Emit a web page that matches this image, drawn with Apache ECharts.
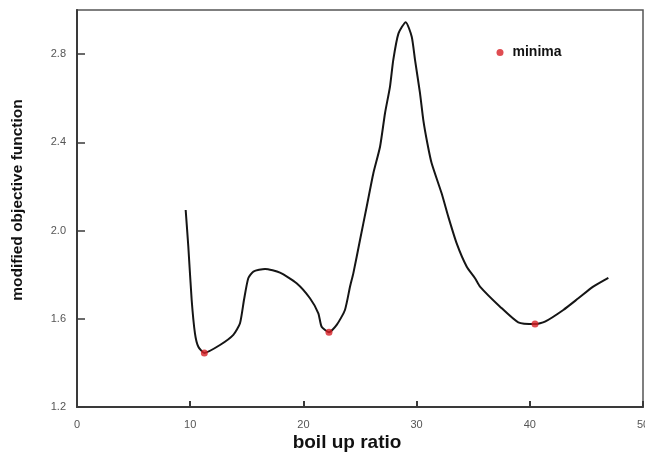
<!DOCTYPE html>
<html>
<head>
<meta charset="utf-8">
<script src="https://cdn.jsdelivr.net/npm/echarts@6/dist/echarts.min.js"></script>
<style>html,body{margin:0;padding:0;background:#fff}#c{width:645px;height:456px}</style>
</head>
<body>
<div id="c"></div>
<script>
// boil up ratio (x) and modified objective function (y)
var boilUp = [9.60, 9.83, 10.13, 10.42, 10.72, 11.25, 12.63, 13.81, 14.40, 14.75, 15.13, 15.58, 16.61, 17.93, 19.40, 20.58, 21.32, 21.61, 22.26, 22.94, 23.67, 24.12, 24.41, 25.00, 25.59, 26.18, 26.77, 27.21, 27.65, 27.94, 28.40, 29.04, 29.57, 29.86, 30.30, 30.59, 30.95, 31.33, 32.21, 32.80, 33.54, 34.43, 35.16, 35.60, 37.37, 38.98, 40.46, 41.34, 42.96, 44.29, 45.60, 46.94];
var objective = [2.093, 1.930, 1.685, 1.534, 1.473, 1.445, 1.481, 1.527, 1.580, 1.685, 1.784, 1.814, 1.826, 1.809, 1.761, 1.693, 1.625, 1.564, 1.539, 1.572, 1.640, 1.746, 1.806, 1.957, 2.108, 2.260, 2.380, 2.532, 2.653, 2.774, 2.894, 2.945, 2.879, 2.774, 2.623, 2.502, 2.396, 2.305, 2.169, 2.063, 1.942, 1.836, 1.784, 1.746, 1.655, 1.584, 1.576, 1.587, 1.640, 1.693, 1.746, 1.786];
var minimaX = [11.25, 22.26, 40.46];
var minimaY = [1.445, 1.539, 1.576];
var xTicks = [0, 10, 20, 30, 40, 50];
var yTicks = [1.2, 1.6, 2.0, 2.4, 2.8];

var chart = echarts.init(document.getElementById('c'), null, {renderer: 'canvas'});
var curve = boilUp.map(function (x, i) { return [x, objective[i]]; });
var mins = minimaX.map(function (x, i) { return [x, minimaY[i]]; });
var axisColor = '#3a3a3a';
var labelFont = {color: '#555', fontSize: 11, fontFamily: 'Liberation Sans, Arial, sans-serif'};

chart.setOption({
  animation: false,
  backgroundColor: '#fff',
  grid: {left: 77, right: 2, top: 10, bottom: 49, containLabel: false, outerBoundsMode: 'none',
         show: true, borderColor: '#555', borderWidth: 1.5},
  xAxis: {
    type: 'value', min: xTicks[0], max: xTicks[xTicks.length - 1], interval: 10,
    axisLine: {show: true, lineStyle: {color: axisColor, width: 2}},
    axisTick: {show: true, inside: true, length: 6, lineStyle: {color: axisColor, width: 2}},
    axisLabel: Object.assign({margin: 12, hideOverlap: false}, labelFont),
    splitLine: {show: false}
  },
  yAxis: {
    type: 'value', min: yTicks[0], max: 3.0, interval: 0.4,
    axisLine: {show: true, lineStyle: {color: axisColor, width: 2}},
    axisTick: {show: true, inside: true, length: 8, lineStyle: {color: axisColor, width: 1.5}},
    axisLabel: Object.assign({margin: 11, showMaxLabel: false, formatter: function (v) { return v.toFixed(1); }}, labelFont),
    splitLine: {show: false}
  },
  legend: {
    left: 491.5, top: 40.5, icon: 'circle', itemWidth: 7, itemHeight: 7,
    data: ['minima'],
    textStyle: {fontWeight: 'bold', fontSize: 14, color: '#111', fontFamily: 'Liberation Sans, Arial, sans-serif', padding: [0, 0, 0, 4]}
  },
  graphic: [
    {type: 'text', x: 18, y: 200, rotation: Math.PI / 2,
     style: {text: 'modified objective function', font: 'bold 15.5px "Liberation Sans", Arial, sans-serif', fill: '#111', textAlign: 'center', textVerticalAlign: 'middle'}},
    {type: 'text', x: 347, y: 443,
     style: {text: 'boil up ratio', font: 'bold 19px "Liberation Sans", Arial, sans-serif', fill: '#111', textAlign: 'center', textVerticalAlign: 'middle'}}
  ],
  series: [
    {type: 'line', name: 'curve', data: curve, smooth: 0.2, showSymbol: false,
     lineStyle: {color: '#151515', width: 2}, z: 2},
    {type: 'scatter', name: 'minima', data: mins, symbol: 'circle', symbolSize: 7,
     itemStyle: {color: '#d71f26'}, z: 3}
  ]
});
</script>
</body>
</html>
